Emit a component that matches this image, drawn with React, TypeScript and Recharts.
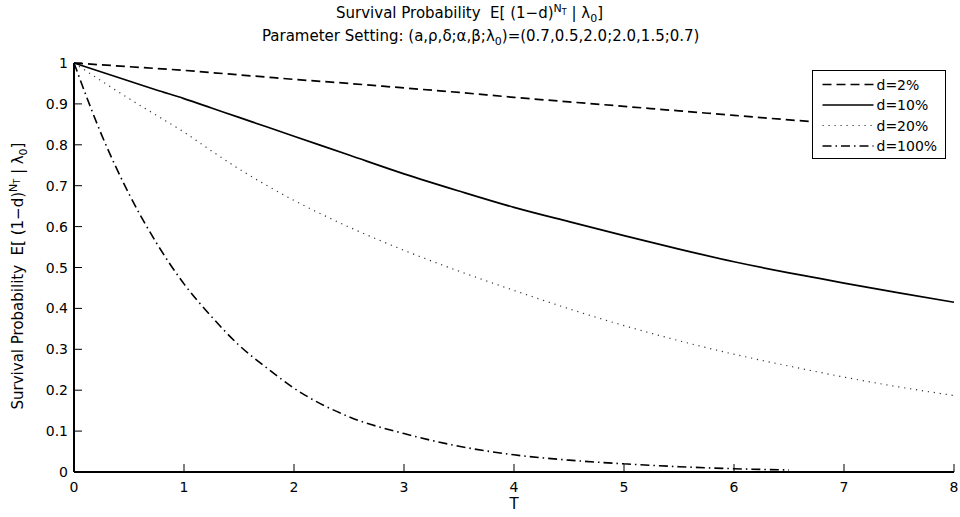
import React from 'react';
import { LineChart, Line, XAxis, YAxis, Legend } from 'recharts';

const T_VALUES = [0, 0.25, 0.5, 0.75, 1, 1.25, 1.5, 1.75, 2, 2.5, 3, 3.5, 4, 4.5, 5, 5.5, 6, 6.5, 6.7, 7, 7.5, 8];
const D2 = [1, 0.9955, 0.991, 0.9865, 0.982, 0.9765, 0.971, 0.9655, 0.96, 0.95, 0.939, 0.928, 0.916, 0.905, 0.894, 0.883, 0.872, 0.861, 0.857, null, null, null];
const D10 = [1, 0.978, 0.956, 0.934, 0.913, 0.89, 0.867, 0.844, 0.821, 0.775, 0.729, 0.687, 0.647, 0.612, 0.578, 0.545, 0.514, 0.487, 0.477, 0.462, 0.438, 0.415];
const D20 = [1, 0.956, 0.913, 0.872, 0.831, 0.785, 0.741, 0.701, 0.664, 0.599, 0.542, 0.491, 0.444, 0.399, 0.358, 0.321, 0.288, 0.259, 0.248, 0.232, 0.208, 0.187];
const D100 = [1, 0.825, 0.68, 0.56, 0.46, 0.38, 0.31, 0.255, 0.205, 0.135, 0.094, 0.063, 0.042, 0.029, 0.02, 0.013, 0.008, 0.005, null, null, null, null];

const X_TICKS = [0, 1, 2, 3, 4, 5, 6, 7, 8];
const Y_TICKS = [0, 0.1, 0.2, 0.3, 0.4, 0.5, 0.6, 0.7, 0.8, 0.9, 1];

const SERIES = [
  { key: 'd2', name: 'd=2%', dash: '9 5', width: 1.7, color: '#000' },
  { key: 'd10', name: 'd=10%', dash: undefined, width: 1.7, color: '#000' },
  { key: 'd20', name: 'd=20%', dash: '1.2 4.8', width: 1.2, color: '#333' },
  { key: 'd100', name: 'd=100%', dash: '9 4 1.5 4', width: 1.6, color: '#000' },
];

const data = T_VALUES.map((t, i) => ({ t, d2: D2[i], d10: D10[i], d20: D20[i], d100: D100[i] }));

const FONT = "'DejaVu Sans', 'Liberation Sans', Arial, sans-serif";
const TICK_FS = 14;
const TITLE_FS = 15;
const TICK_LEN = 8;

const BottomTick = (props: any) => {
  const { x, y, payload } = props;
  return (
    <g>
      <line x1={x} x2={x} y1={y} y2={y - TICK_LEN} stroke="#000" strokeWidth={1} />
      <text x={x} y={y + 20} textAnchor="middle" fontSize={TICK_FS} fontFamily={FONT} fill="#000">{payload.value}</text>
    </g>
  );
};
const TopTick = (props: any) => {
  const { x, y } = props;
  return <line x1={x} x2={x} y1={y} y2={y + TICK_LEN} stroke="#000" strokeWidth={1} />;
};
const LeftTick = (props: any) => {
  const { x, y, payload } = props;
  return (
    <g>
      <line x1={x} x2={x + TICK_LEN} y1={y} y2={y} stroke="#000" strokeWidth={1} />
      <text x={x - 6} y={y + 5} textAnchor="end" fontSize={TICK_FS} fontFamily={FONT} fill="#000">{payload.value}</text>
    </g>
  );
};
const RightTick = (props: any) => {
  const { x, y } = props;
  return <line x1={x} x2={x - TICK_LEN} y1={y} y2={y} stroke="#000" strokeWidth={1} />;
};

const LegendBox = (props: any) => {
  const payload = props.payload || [];
  return (
    <svg width={131} height={86} style={{ display: 'block' }}>
      {SERIES.map((s, i) => {
        const entry = payload.find((p: any) => p.dataKey === s.key);
        const cy = 13.5 + i * 20.5;
        return (
          <g key={s.key}>
            <line x1={9.5} x2={60.5} y1={cy} y2={cy} stroke={s.color} strokeWidth={s.width} strokeDasharray={s.dash} />
            <text x={63.5} y={cy + 5} fontSize={TICK_FS} fontFamily={FONT} fill="#000">{entry ? entry.value : s.name}</text>
          </g>
        );
      })}
    </svg>
  );
};

const TitleText = (p: { x: number; y: number; transform?: string }) => (
  <text x={p.x} y={p.y} transform={p.transform} textAnchor="middle" fontSize={TITLE_FS} fontFamily={FONT} fill="#000" style={{ whiteSpace: 'pre' }}>
    {'Survival Probability  E[ (1\u2212d)'}
    <tspan dy={-6} fontSize={11}>N</tspan>
    <tspan dy={3} fontSize={8}>T</tspan>
    <tspan dy={3} fontSize={TITLE_FS}>{' | \u03bb'}</tspan>
    <tspan dy={4} fontSize={11}>0</tspan>
    <tspan dy={-4} fontSize={TITLE_FS}>]</tspan>
  </text>
);

export default function App() {
  return (
    <div style={{ position: 'absolute', left: 0, top: 0, width: 960, height: 517, background: '#fff' }}>
      <LineChart width={960} height={517} data={data} margin={{ top: 63, right: 6, bottom: 0, left: 0 }}>
        <XAxis xAxisId="b" dataKey="t" type="number" domain={[0, 8]} ticks={X_TICKS} orientation="bottom" height={45}
          tickSize={0} tickMargin={0} tickLine={false} tick={BottomTick} axisLine={{ stroke: '#000', strokeWidth: 2 }} interval={0} />
        <XAxis xAxisId="top" dataKey="t" type="number" domain={[0, 8]} ticks={X_TICKS} orientation="top" height={0}
          tickSize={0} tickMargin={0} tickLine={false} tick={TopTick} axisLine={{ stroke: '#000', strokeWidth: 1.5 }} interval={0} />
        <YAxis yAxisId="l" type="number" domain={[0, 1]} ticks={Y_TICKS} orientation="left" width={74}
          tickSize={0} tickMargin={0} tickLine={false} tick={LeftTick} axisLine={{ stroke: '#000', strokeWidth: 2 }} interval={0} />
        <YAxis yAxisId="r" type="number" domain={[0, 1]} ticks={Y_TICKS} orientation="right" width={0}
          tickSize={0} tickMargin={0} tickLine={false} tick={RightTick} axisLine={{ stroke: '#000', strokeWidth: 1.5 }} interval={0} />
        {SERIES.map((s) => (
          <Line key={s.key} xAxisId="b" yAxisId="l" type="monotone" dataKey={s.key} name={s.name} stroke={s.color}
            strokeWidth={s.width} strokeDasharray={s.dash} dot={false} activeDot={false} isAnimationActive={false} connectNulls={false} />
        ))}
        <Legend layout="vertical" align="center" verticalAlign="middle" content={LegendBox}
          wrapperStyle={{ left: 812, top: 70, width: 134, height: 89, border: '1.5px solid #000', background: '#fff', boxSizing: 'border-box' }} />
      </LineChart>
      <svg width={960} height={517} style={{ position: 'absolute', left: 0, top: 0, pointerEvents: 'none' }}>
        <TitleText x={469.5} y={18} />
        <text x={480.7} y={41} textAnchor="middle" fontSize={TITLE_FS} fontFamily={FONT} fill="#000">
          {'Parameter Setting: (a,\u03c1,\u03b4;\u03b1,\u03b2;\u03bb'}
          <tspan dy={4} fontSize={11}>0</tspan>
          <tspan dy={-4} fontSize={TITLE_FS}>{')=(0.7,0.5,2.0;2.0,1.5;0.7)'}</tspan>
        </text>
        <TitleText x={-276} y={23} transform="rotate(-90)" />
        <text x={514} y={509} textAnchor="middle" fontSize={TITLE_FS} fontFamily={FONT} fill="#000">T</text>
      </svg>
    </div>
  );
}
